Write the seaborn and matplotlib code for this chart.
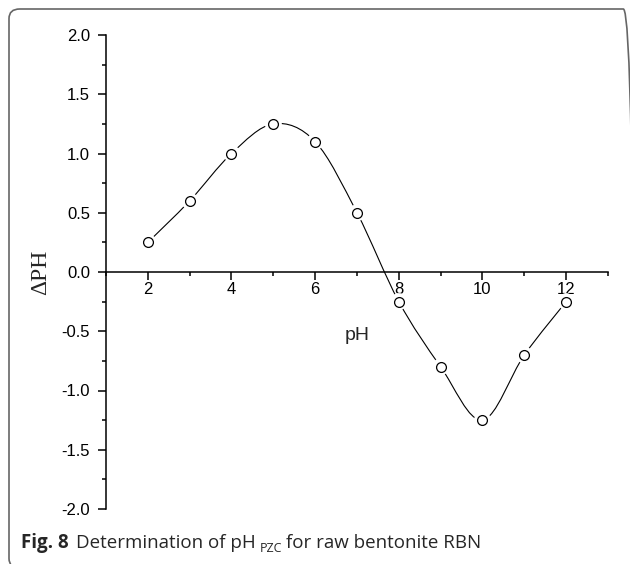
import numpy as np
import pandas as pd
import matplotlib
matplotlib.use('Agg')
import matplotlib.pyplot as plt
from matplotlib.path import Path
from matplotlib.patches import PathPatch, FancyBboxPatch
from matplotlib.ticker import MultipleLocator
import seaborn as sns

## data
ph = [2, 3, 4, 5, 6, 7, 8, 9, 10, 11, 12]
delta_ph = [0.25, 0.6, 1.0, 1.25, 1.1, 0.5, -0.25, -0.8, -1.25, -0.7, -0.25]
x_ticks = [2, 4, 6, 8, 10, 12]
y_ticks = [-2.0, -1.5, -1.0, -0.5, 0.0, 0.5, 1.0, 1.5, 2.0]
x_label = 'pH'
y_label = '\u0394PH'
caption_bold = 'Fig. 8'
caption_a = 'Determination of pH'
caption_sub = 'PZC'
caption_b = 'for raw bentonite RBN'

df = pd.DataFrame({'pH': ph, 'dpH': delta_ph})

sns.set_theme(style='ticks')
plt.rcParams['font.family'] = ['Liberation Sans', 'DejaVu Sans']

fig = plt.figure(figsize=(6.3, 5.64), dpi=100)
fig.patch.set_facecolor('white')
ax = fig.add_axes([106/630, 1-509/564, 502/630, 474/564])

# smooth curve through the points (Catmull-Rom -> cubic bezier)
pts = df[['pH', 'dpH']].to_numpy()
padded = np.vstack([pts[0], pts, pts[-1]])
verts = [tuple(pts[0])]
codes = [Path.MOVETO]
for i in range(1, len(padded) - 2):
    p0, p1, p2, p3 = padded[i-1], padded[i], padded[i+1], padded[i+2]
    c1 = p1 + (p2 - p0) / 6.0
    c2 = p2 - (p3 - p1) / 6.0
    verts += [tuple(c1), tuple(c2), tuple(p2)]
    codes += [Path.CURVE4] * 3
ax.add_patch(PathPatch(Path(verts, codes), facecolor='none', edgecolor='black', lw=0.8, zorder=2))

# white halo so the line stops short of the markers, then the hollow circles
sns.scatterplot(data=df, x='pH', y='dpH', ax=ax, s=150, color='white', edgecolor='none', zorder=3, legend=False)
sns.scatterplot(data=df, x='pH', y='dpH', ax=ax, s=50, facecolor='white', edgecolor='black', linewidth=0.9, zorder=4, legend=False)

ax.set_xlim(1, 13)
ax.set_ylim(-2.0, 2.0)
ax.spines['right'].set_visible(False)
ax.spines['top'].set_visible(False)
ax.spines['bottom'].set_position(('data', 0))
for s in ['left', 'bottom']:
    ax.spines[s].set_linewidth(1.1)
    ax.spines[s].set_color('black')

ax.set_xticks(x_ticks)
ax.set_xticklabels([str(v) for v in x_ticks])
ax.xaxis.set_minor_locator(MultipleLocator(1))
ax.set_yticks(y_ticks)
ax.set_yticklabels(['%.1f' % v for v in y_ticks])
ax.yaxis.set_minor_locator(MultipleLocator(0.25))
ax.tick_params(axis='both', which='major', direction='out', length=5.5, width=1.1, labelsize=12, colors='black')
ax.tick_params(axis='both', which='minor', direction='out', length=3, width=1.1, colors='black')
ax.tick_params(axis='x', which='major', pad=2)
ax.tick_params(axis='y', which='major', pad=6)

ax.set_xlabel(x_label, fontsize=14)
ax.xaxis.set_label_coords(0.5, 0.384)
ax.set_ylabel(y_label, fontsize=17, family=['Liberation Serif', 'DejaVu Serif'])
ax.yaxis.set_label_coords(-0.11, 0.5)
ax.patch.set_alpha(0)

# rounded frame round the whole figure, running off the right and bottom edges
frame = FancyBboxPatch((9/630, -4/564), 625/630, 559/564, boxstyle='round,pad=0,rounding_size=0.017',
                       transform=fig.transFigure, facecolor='none', edgecolor='#666666', lw=1.2)
fig.patches.append(frame)

# caption, built piece by piece
cap_font = ['Open Sans', 'DejaVu Sans']
fig.canvas.draw()
r = fig.canvas.get_renderer()
y_cap = 1 - 548/564
t = fig.text(21/630, y_cap, caption_bold, fontsize=13.5, fontweight='bold', family=cap_font, va='baseline')
x = t.get_window_extent(r).x1 + 7
t = fig.text(x/630, y_cap, caption_a, fontsize=13.5, family=cap_font, va='baseline')
x = t.get_window_extent(r).x1 + 4
t = fig.text(x/630, y_cap - 4/564, caption_sub, fontsize=9, family=cap_font, va='baseline')
x = t.get_window_extent(r).x1 + 4
fig.text(x/630, y_cap, caption_b, fontsize=13.5, family=cap_font, va='baseline')

fig.savefig('out.png', dpi=100)
